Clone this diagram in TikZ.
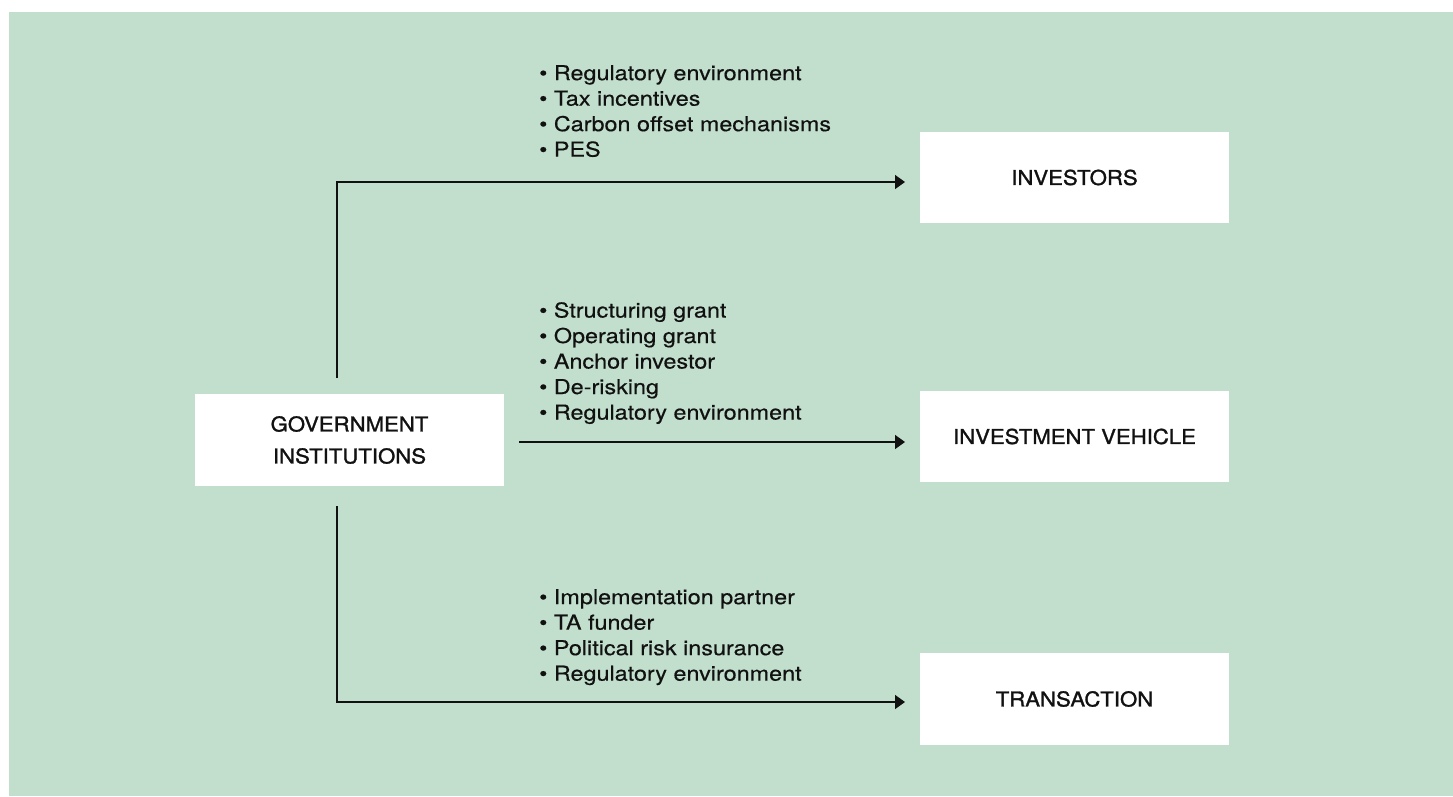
\documentclass[tikz,border=0pt]{standalone}
\usepackage{fontspec}
\setmainfont{TeX Gyre Heros}[FakeStretch=1.14, FakeBold=0.4]
\newfontfamily\labelfont{TeX Gyre Heros}[FakeStretch=1.08, FakeBold=1.3]
\usetikzlibrary{arrows.meta}
\definecolor{bggreen}{RGB}{194,223,205}
\definecolor{ink}{RGB}{17,17,17}
\tikzset{
  boxnode/.style={fill=white, draw=none, inner sep=0pt, align=center, text=ink,
    font=\labelfont\fontsize{20.5}{32}\selectfont},
  bullets/.style={inner sep=0pt, anchor=north west, align=left, text=ink,
    font=\fontsize{20.5}{25.5}\selectfont},
  conn/.style={draw=ink, line width=1.5pt},
  arr/.style={conn, -{Triangle[length=10pt,width=14pt]}}
}
\begin{document}
\begin{tikzpicture}[x=1pt,y=-1pt]
\useasboundingbox (0,0) rectangle (1453,796);
\fill[bggreen] (9,12) rectangle (1453,796);

\node[boxnode, minimum width=309pt, minimum height=92pt] (gov) at (349.5,440) {GOVERNMENT\\INSTITUTIONS};
\node[boxnode, minimum width=309pt, minimum height=91pt] (inv) at (1074.5,177.5) {INVESTORS};
\node[boxnode, minimum width=309pt, minimum height=91pt] (veh) at (1074.5,436.5) {INVESTMENT VEHICLE};
\node[boxnode, minimum width=309pt, minimum height=92pt] (tra) at (1074.5,699) {TRANSACTION};

\coordinate (topstart) at (337,378);
\coordinate (topcorner) at (337,182);
\coordinate (topend) at (905,182);
\coordinate (midstart) at (519,442);
\coordinate (midend) at (905,442);
\coordinate (botstart) at (337,506);
\coordinate (botcorner) at (337,702);
\coordinate (botend) at (905,702);

\draw[arr] (topstart) -- (topcorner) -- (topend);
\draw[arr] (midstart) -- (midend);
\draw[arr] (botstart) -- (botcorner) -- (botend);

\node[bullets] (l1) at (539,65) {\textbullet\ Regulatory environment\\\textbullet\ Tax incentives\\\textbullet\ Carbon offset mechanisms\\\textbullet\ PES};
\node[bullets] (l2) at (539,302) {\textbullet\ Structuring grant\\\textbullet\ Operating grant\\\textbullet\ Anchor investor\\\textbullet\ De-risking\\\textbullet\ Regulatory environment};
\node[bullets] (l3) at (539,589) {\textbullet\ Implementation partner\\\textbullet\ TA funder\\\textbullet\ Political risk insurance\\\textbullet\ Regulatory environment};
\end{tikzpicture}
\end{document}
